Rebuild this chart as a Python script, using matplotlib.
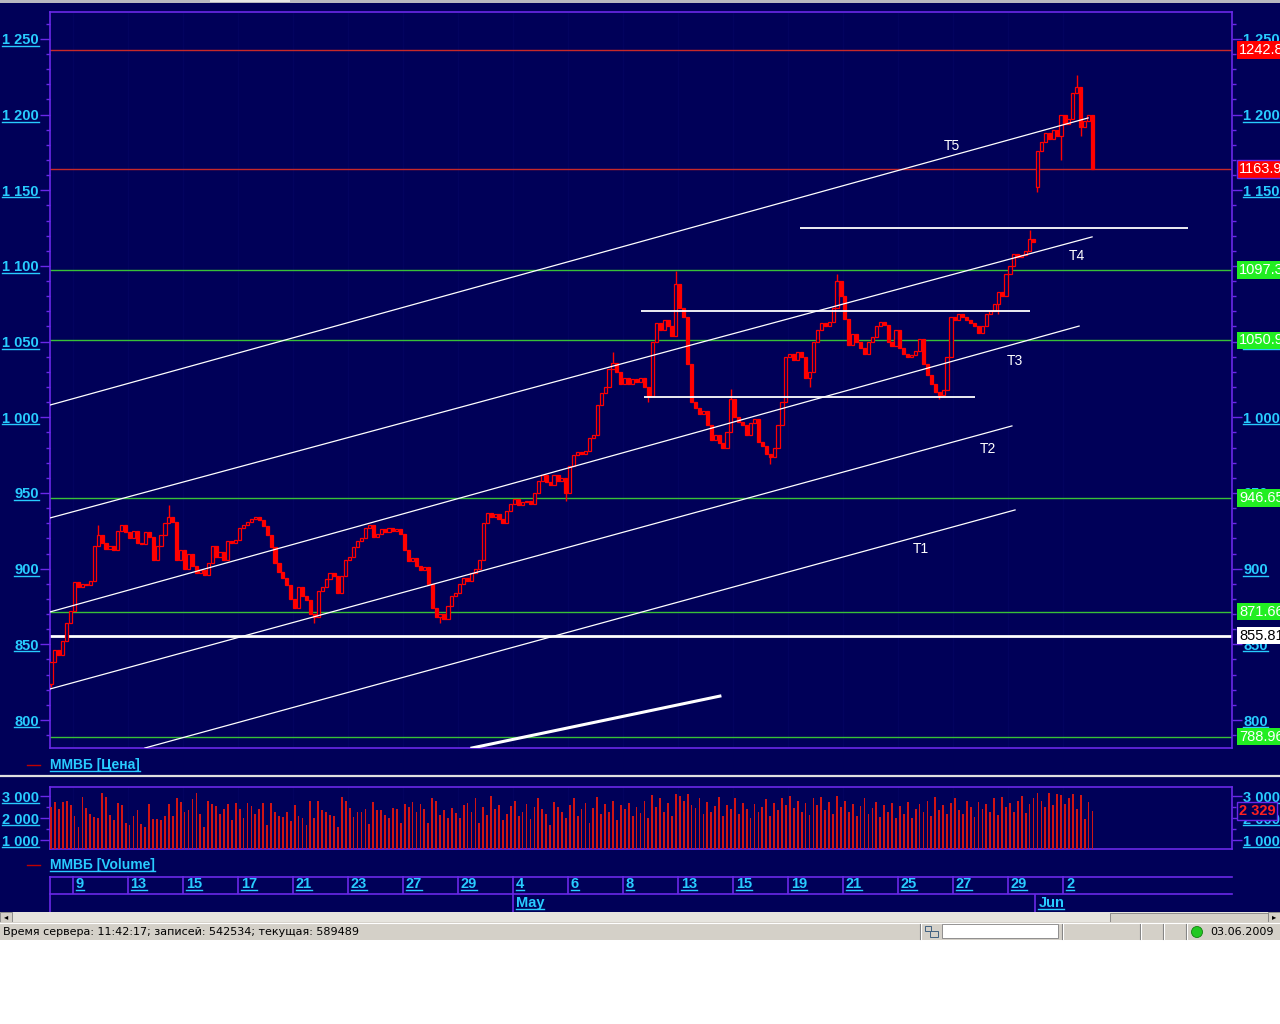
import numpy as np
import matplotlib
matplotlib.use("Agg")
import matplotlib.pyplot as plt
from matplotlib.lines import Line2D
from matplotlib.patches import Rectangle, Circle
from matplotlib.transforms import IdentityTransform, offset_copy
from matplotlib.ticker import MultipleLocator, FuncFormatter

plt.rcParams["font.family"] = ["Liberation Sans", "DejaVu Sans"]
plt.rcParams["font.weight"] = "bold"

# ---------------- data ----------------
day_nums = [8, 9, 10, 13, 14, 15, 16, 17, 20, 21, 22, 23, 24, 27, 28, 29, 30,
            4, 5, 6, 7, 8, 12, 13, 14, 15, 18, 19, 20, 21, 22, 25, 26, 27, 28, 29,
            1, 2, 3]
day_months = ["Apr"] * 17 + ["May"] * 19 + ["Jun"] * 3
bars_per_day = [6] + [7] * 37 + [1]

# hourly closes, one row per trading day
closes = [
    838, 846, 843, 852, 864, 872,
    891, 888, 890, 889, 892, 915, 922,
    917, 913, 915, 912, 925, 929, 924,
    920, 925, 917, 916, 924, 921, 906,
    915, 922, 930, 934, 931, 906, 912,
    900, 910, 902, 897, 899, 896, 904,
    915, 908, 911, 906, 918, 917, 919,
    927, 929, 931, 933, 934, 932, 928,
    922, 914, 904, 898, 894, 889, 880,
    874, 888, 882, 879, 870, 868, 885,
    888, 893, 897, 895, 884, 895, 906,
    908, 914, 918, 920, 927, 929, 921,
    923, 926, 924, 927, 925, 926, 923,
    912, 905, 907, 902, 899, 901, 890,
    874, 868, 870, 867, 875, 882, 884,
    890, 894, 892, 897, 900, 906, 930,
    937, 934, 936, 933, 930, 938, 943,
    946, 942, 944, 945, 943, 950, 958,
    962, 957, 955, 962, 958, 960, 950,
    968, 975, 977, 976, 978, 986, 988,
    1008, 1016, 1020, 1032, 1036, 1030, 1022,
    1026, 1022, 1025, 1023, 1026, 1020, 1014,
    1050, 1062, 1058, 1064, 1060, 1054, 1088,
    1072, 1066, 1035, 1010, 1006, 1002, 1004,
    995, 985, 988, 983, 980, 990, 1012,
    1000, 997, 995, 988, 996, 999, 984,
    981, 976, 974, 980, 995, 1010, 1040,
    1042, 1038, 1043, 1040, 1026, 1030, 1050,
    1058, 1062, 1060, 1063, 1072, 1090, 1080,
    1065, 1048, 1055, 1050, 1046, 1042, 1050,
    1053, 1060, 1063, 1061, 1050, 1047, 1058,
    1046, 1042, 1040, 1041, 1044, 1052, 1035,
    1028, 1022, 1017, 1015, 1018, 1040, 1066,
    1064, 1068, 1066, 1064, 1062, 1060, 1056,
    1060, 1068, 1070, 1075, 1083, 1080, 1095,
    1100, 1108, 1106, 1107, 1110, 1118, 1116,
    1176, 1182, 1188, 1184, 1190, 1186, 1200,
    1194, 1197, 1214, 1218, 1192, 1196, 1200,
    1163.9,
]
gap_opens = {0: 824.0, 251: 1152.0}
spike_highs = {12: 929, 30: 942, 143: 1043, 159: 1097, 173: 1019, 200: 1095,
               249: 1124, 261: 1226}
spike_lows = {0: 822, 67: 864, 99: 864, 131: 945, 152: 1010, 183: 969, 193: 1020,
              226: 1012, 241: 1068, 251: 1149, 257: 1170, 262: 1186}

volumes = [
    2500, 2750, 2400, 2750, 2800, 2600,
    2100, 1600, 2950, 2450, 2200, 2050, 2000,
    3150, 2950, 2150, 1900, 2700, 2600, 1800,
    1700, 2100, 2350, 1750, 1600, 2650, 1950,
    1950, 1900, 2100, 2650, 2100, 2900, 2750,
    2300, 2350, 2850, 3150, 2200, 1600, 2800,
    2650, 2550, 2200, 2400, 2650, 1900, 2700,
    2400, 2000, 2700, 2550, 2200, 2400, 2700,
    1700, 2700, 2300, 2100, 2050, 2300, 1850,
    2600, 2100, 2000, 1700, 2800, 2000, 2800,
    2350, 2300, 2150, 2100, 1600, 2950, 2800,
    2450, 2050, 2300, 2300, 2400, 1750, 2750,
    2350, 2350, 2150, 2000, 2450, 2400, 1800,
    2650, 2500, 2750, 2300, 2650, 2400, 1800,
    2900, 2800, 2150, 2350, 2000, 2450, 2250,
    2000, 2600, 2700, 2300, 2900, 1800, 2500,
    2150, 3000, 2400, 2600, 1900, 2200, 2550,
    2800, 2100, 2300, 2650, 1950, 2500, 2900,
    2400, 2200, 1700, 2750, 2500, 2300, 2000,
    2600, 2900, 2100, 2400, 2700, 1800, 2450,
    2950, 2200, 2650, 2300, 2800, 1900, 2600,
    2400, 2700, 2100, 2500, 2250, 2800, 2000,
    3050, 2500, 2900, 2300, 2700, 2100, 3100,
    3000, 2800, 3100, 2600, 2450, 2900, 2200,
    2750, 2300, 2550, 2950, 2100, 2600, 2400,
    2900, 2200, 2700, 2400, 2000, 2650, 2300,
    2500, 2850, 2100, 2700, 2350, 2900, 2600,
    3000, 2450, 2800, 2300, 2700, 2150, 2900,
    2600, 2950, 2350, 2750, 2200, 3000, 2500,
    2800, 2300, 2650, 2100, 2550, 2900, 2200,
    2450, 2750, 2050, 2600, 2300, 2700, 2000,
    2550, 2200, 2750, 2000, 2400, 2650, 2300,
    2800, 2100, 2950, 2350, 2600, 2200, 2700,
    2900, 2350, 2200, 2800, 2500, 2050, 2750,
    2400, 2650, 2300, 2900, 2150, 2950, 2500,
    2700, 2300, 2800, 3000, 2250, 2650, 2900,
    3150, 2800, 2500, 3150, 2600, 3100, 3050,
    2650, 2900, 3100, 2400, 3050, 1950, 2750,
    2329,
]

red_levels = [1242.8, 1163.9]
green_levels = [1097.3, 1050.9, 946.65, 871.66, 788.96]
white_level = 855.81

trend_names = ["T5", "T4", "T3", "T2", "T1"]
trend_lines = [((-0.25, 1008.1), (263.9, 1197.8)),
               ((-0.25, 933.5), (264.9, 1119.2)),
               ((-0.25, 871.4), (261.6, 1060.3)),
               ((-0.25, 820.5), (244.5, 994.3)),
               ((23.9, 781.5), (245.3, 938.8))]
trend_label_pos = [(229.3, 1179.3), (261.1, 1106.6), (245.3, 1037.2),
                   (238.4, 979.1), (221.4, 913.0)]
flat_lines = [(190.6, 289.3, 1124.9), (150.1, 249.1, 1070.3), (150.9, 235.1, 1013.5)]
thick_line = ((107.1, 781.5), (170.2, 815.8))

# ---------------- style ----------------
W, H = 1280, 1024
BG = "#000058"
GRID = "#03035F"
PURPLE = "#6A28E8"
CYAN = "#28CCFF"
RED = "#FF0000"
XL = (-0.25, 300.5)

assert len(closes) == sum(bars_per_day) == len(volumes)
n = len(closes)
idx = np.arange(n)
closes = np.array(closes, dtype=float)
opens = np.r_[closes[0], closes[:-1]]
for k, v in gap_opens.items():
    opens[k] = v
highs = np.maximum(opens, closes)
lows = np.minimum(opens, closes)
for k, v in spike_highs.items():
    highs[k] = max(highs[k], v)
for k, v in spike_lows.items():
    lows[k] = min(lows[k], v)

starts = np.cumsum([0] + bars_per_day[:-1])
labeled = list(range(1, len(day_nums) - 1, 2))
month_first = [i for i in range(1, len(day_months)) if day_months[i] != day_months[i - 1]]


def fig_rect(x0, y0, x1, y1):
    return [x0 / W, 1 - y1 / H, (x1 - x0) / W, (y1 - y0) / H]


def thousands(v, pos=None):
    return f"{v:,.0f}".replace(",", " ")


fig = plt.figure(figsize=(W / 100, H / 100), dpi=100, facecolor=BG)

# window chrome in pixel coordinates
ui = fig.add_axes([0, 0, 1, 1])
ui.set_xlim(0, W)
ui.set_ylim(H, 0)
ui.axis("off")
ui.add_patch(Rectangle((0, 0), W, 3, fc="#B8B8C0", ec="none"))
ui.add_patch(Rectangle((210, 0), 80, 2, fc="#E8E8E8", ec="none"))
ui.plot([0, W], [775.5, 775.5], color="#E0E0E0", lw=1.6)
ui.plot([27, 40], [765, 765], color="#C00000", lw=1)
ui.plot([27, 40], [865, 865], color="#C00000", lw=1)
leg1 = ui.text(50, 765, "ММВБ [Цена]", color=CYAN, fontsize=10, va="center")
leg2 = ui.text(50, 865, "ММВБ [Volume]", color=CYAN, fontsize=10, va="center")
# scrollbar
ui.add_patch(Rectangle((0, 912), W, 10, fc="#E6E4DE", ec="none"))
ui.add_patch(Rectangle((0, 912), 12, 10, fc="#D4D0C8", ec="#808080", lw=0.6))
ui.add_patch(Rectangle((1110, 913), 158, 9, fc="#D4D0C8", ec="#808080", lw=0.6))
ui.add_patch(Rectangle((1268, 912), 12, 10, fc="#D4D0C8", ec="#808080", lw=0.6))
ui.text(6, 917, "◂", fontsize=6, color="black", ha="center", va="center",
        family="DejaVu Sans", weight="normal")
ui.text(1274, 917, "▸", fontsize=6, color="black", ha="center", va="center",
        family="DejaVu Sans", weight="normal")
# status bar
ui.add_patch(Rectangle((0, 922), W, 18, fc="#D4D0C8", ec="none"))
ui.plot([0, W], [922.5, 922.5], color="white", lw=0.8)
ui.add_patch(Rectangle((942, 924), 116, 14, fc="white", ec="#808080", lw=0.6))
for sx in [920, 1062, 1140, 1163, 1186]:
    ui.plot([sx, sx], [924, 939], color="#808080", lw=0.8)
    ui.plot([sx + 1, sx + 1], [924, 939], color="white", lw=0.8)
ui.add_patch(Rectangle((925, 926), 6, 5, fc="#D4D0C8", ec="#406080", lw=0.7))
ui.add_patch(Rectangle((930, 931), 8, 6, fc="#D4D0C8", ec="#406080", lw=0.7))
ui.text(3, 932, "Время сервера: 11:42:17; записей: 542534; текущая: 589489",
        fontsize=8, color="black", va="center", family="DejaVu Sans", weight="normal")
ui.add_patch(Circle((1197, 932), 5.5, fc="#22C822", ec="#108010", lw=0.6))
ui.text(1210, 932, "03.06.2009", fontsize=8, color="black", va="center",
        family="DejaVu Sans", weight="normal")
ui.add_patch(Rectangle((0, 940), W, H - 940, fc="white", ec="none"))

# ---------------- price panel ----------------
ax = fig.add_axes(fig_rect(50, 12, 1232, 748))
ax.set_facecolor(BG)
ax.set_xlim(XL)
ax.set_ylim(781.5, 1267.8)
for s in ax.spines.values():
    s.set_color(PURPLE)
    s.set_linewidth(1.2)
ax.set_xticks([])
ax.yaxis.set_major_locator(MultipleLocator(50))
ax.yaxis.set_minor_locator(MultipleLocator(10))
ax.yaxis.set_major_formatter(FuncFormatter(thousands))
ax.tick_params(axis="y", which="both", colors=PURPLE, labelcolor=CYAN, direction="out",
               left=True, right=True, labelleft=True, labelright=True)
ax.tick_params(axis="y", which="major", length=7, width=1, pad=1, labelsize=10.5)
ax.tick_params(axis="y", which="minor", length=3, width=1)

for d in labeled:
    ax.axvline(starts[d] - 0.5, color=GRID, lw=1, zorder=0.5)

for v in red_levels:
    ax.axhline(v, color="#C82828", lw=1, zorder=2)
for v in green_levels:
    ax.axhline(v, color="#38C038", lw=1, zorder=2)
ax.axhline(white_level, color="white", lw=2, zorder=2)

up = closes >= opens
body_lo = np.minimum(opens, closes)
body_h = np.maximum(np.abs(closes - opens), 1.0)
ax.vlines(idx, lows, highs, color=RED, lw=1, zorder=3)
ax.bar(idx, body_h, bottom=body_lo, width=0.8,
       color=np.where(up, BG, RED), edgecolor=RED, linewidth=0.9, zorder=4)

for (p0, p1), name, (tx, ty) in zip(trend_lines, trend_names, trend_label_pos):
    ax.plot([p0[0], p1[0]], [p0[1], p1[1]], color="white", lw=0.9, zorder=5)
    ax.text(tx, ty, name, color="white", fontsize=10, weight="normal",
            ha="center", va="center", zorder=6)
for x0, x1, y in flat_lines:
    ax.hlines(y, x0, x1, color="white", lw=1.3, zorder=5)
ax.plot([thick_line[0][0], thick_line[1][0]], [thick_line[0][1], thick_line[1][1]],
        color="white", lw=2.2, zorder=5, clip_on=True)

box_tr = ax.get_yaxis_transform()
box_x = (1239 - 50) / 1182
for v in red_levels:
    ax.text(box_x, v, f"{v}", transform=box_tr, color="white", fontsize=10.5,
            weight="normal", va="center", ha="left", clip_on=False, zorder=10,
            bbox=dict(boxstyle="square,pad=0.12", fc="#FF0000",
                      ec=PURPLE if v == closes[-1] else "none", lw=1))
for v in green_levels:
    ax.text(box_x, v, f"{v}", transform=box_tr, color="white", fontsize=10.5,
            weight="normal", va="center", ha="left", clip_on=False, zorder=10,
            bbox=dict(boxstyle="square,pad=0.12", fc="#22EE22", ec="none"))
ax.text(box_x, white_level, f"{white_level}", transform=box_tr, color="black",
        fontsize=10.5, weight="normal", va="center", ha="left", clip_on=False,
        zorder=10, bbox=dict(boxstyle="square,pad=0.12", fc="white", ec="none"))

# ---------------- volume panel ----------------
axv = fig.add_axes(fig_rect(50, 787, 1232, 849))
axv.set_facecolor(BG)
axv.set_xlim(XL)
axv.set_ylim(591, 3420)
for s in axv.spines.values():
    s.set_color(PURPLE)
    s.set_linewidth(1.2)
axv.set_xticks([])
axv.yaxis.set_major_locator(MultipleLocator(1000))
axv.yaxis.set_minor_locator(MultipleLocator(500))
axv.yaxis.set_major_formatter(FuncFormatter(thousands))
axv.tick_params(axis="y", which="both", colors=PURPLE, labelcolor=CYAN, direction="out",
                left=True, right=True, labelleft=True, labelright=True)
axv.tick_params(axis="y", which="major", length=7, width=1, pad=1, labelsize=10.5)
axv.tick_params(axis="y", which="minor", length=3, width=1)
for d in labeled:
    axv.axvline(starts[d] - 0.5, color=GRID, lw=1, zorder=0.5)
axv.bar(idx, volumes, width=0.45, color="#D01414", zorder=3)
axv.text(box_x, volumes[-1], thousands(volumes[-1]), transform=axv.get_yaxis_transform(),
         color="#FF2020", fontsize=10.5, va="center", ha="left", clip_on=False, zorder=10,
         bbox=dict(boxstyle="square,pad=0.12", fc=BG, ec=PURPLE, lw=1))

# ---------------- date strip ----------------
axd = fig.add_axes(fig_rect(50, 876, 1232, 912))
axd.set_facecolor(BG)
axd.set_xlim(XL)
axd.set_ylim(36, 0)
axd.axis("off")
axd.axhline(0.5, color=PURPLE, lw=1.2, clip_on=False)
axd.axhline(18, color=PURPLE, lw=1.2, clip_on=False)
axd.vlines(XL[0], 0, 36, color=PURPLE, lw=1.2, clip_on=False)
lab_tr = offset_copy(axd.transData, fig=fig, x=3, y=0, units="dots")
date_texts = []
for d in labeled:
    axd.vlines(starts[d] - 0.5, 0, 18, color=PURPLE, lw=1.2)
    date_texts.append(axd.text(starts[d] - 0.5, 8.5, str(day_nums[d]), transform=lab_tr,
                               color=CYAN, fontsize=10.5, va="center", ha="left"))
for d in month_first:
    axd.vlines(starts[d] - 0.5, 18, 36, color=PURPLE, lw=1.2)
    date_texts.append(axd.text(starts[d] - 0.5, 27, day_months[d], transform=lab_tr,
                               color=CYAN, fontsize=10.5, va="center", ha="left"))

# ---------------- underline the link-style labels ----------------
fig.canvas.draw()
renderer = fig.canvas.get_renderer()


def underline(owner, texts):
    for t in texts:
        bb = t.get_window_extent(renderer)
        owner.add_line(Line2D([bb.x0, bb.x1], [bb.y0 + 1.5, bb.y0 + 1.5],
                              transform=IdentityTransform(), color=CYAN, lw=1,
                              clip_on=False, zorder=2.6))


for a in (ax, axv):
    lo, hi = a.get_ylim()
    labs = []
    for tick in a.yaxis.get_major_ticks():
        if lo <= tick.get_loc() <= hi:
            labs += [tick.label1, tick.label2]
    underline(a, labs)
underline(ui, [leg1, leg2])
underline(axd, date_texts)

fig.savefig("out.png", dpi=100, facecolor=BG)
